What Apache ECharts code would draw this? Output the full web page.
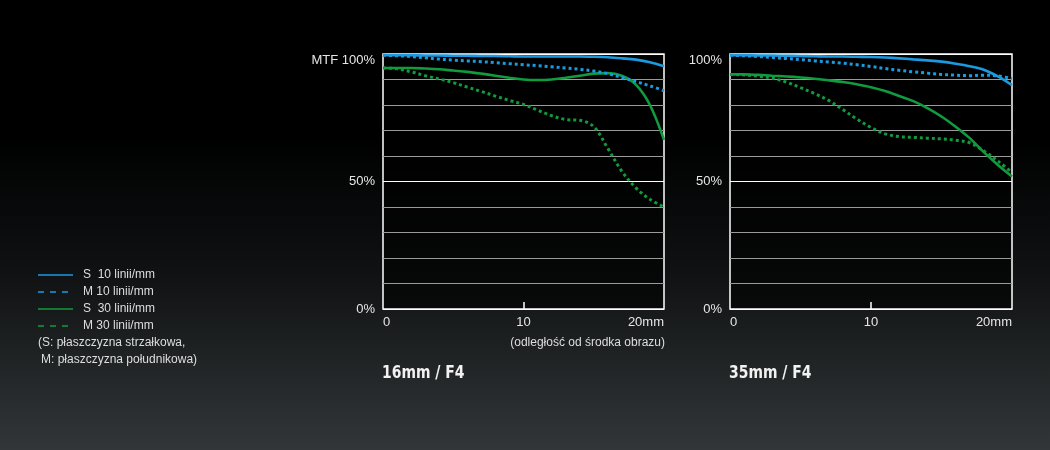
<!DOCTYPE html>
<html>
<head>
<meta charset="utf-8">
<script src="https://cdn.jsdelivr.net/npm/echarts@6/dist/echarts.min.js"></script>
<style>
  html, body { margin: 0; padding: 0; background: #000; }
  #main { width: 1050px; height: 450px; }
</style>
</head>
<body>
<div id="main"></div>
<script>
// distance from image centre (mm)
const xs = [0, 1, 2, 3, 4, 5, 6, 7, 8, 9, 10, 11, 12, 13, 14, 15, 16, 17, 18, 19, 20]

// 16mm / F4
const s10_16 = [99.5, 99.5, 99.5, 99.4, 99.4, 99.3, 99.3, 99.2, 99.2, 99.1, 99, 99, 99, 99, 99, 98.9, 98.7, 98.3, 97.8, 96.8, 95.2]
const m10_16 = [99.5, 99.3, 99, 98.5, 98, 97.6, 97.3, 97, 96.6, 96.2, 95.8, 95.4, 95, 94.5, 94, 93.3, 92.3, 90.8, 89.2, 87.5, 85.6]
const s30_16 = [94.5, 94.5, 94.5, 94.3, 94, 93.5, 93, 92.3, 91.5, 90.7, 90, 89.8, 90, 90.7, 91.5, 92.3, 92.5, 91.5, 88, 80, 66.3]
const m30_16 = [94.5, 94.2, 93, 91.5, 90.2, 88.8, 87, 85.3, 83.5, 81.8, 80.2, 78, 75.8, 74.3, 74, 71.5, 63, 54, 47.5, 43, 40]

// 35mm / F4
const s10_35 = [99.5, 99.5, 99.4, 99.4, 99.3, 99.2, 99.1, 99, 99, 98.9, 98.8, 98.6, 98.3, 97.9, 97.5, 97, 96.2, 95.2, 93.8, 91.2, 87.8]
const m10_35 = [99.5, 99.3, 99, 98.6, 98.2, 97.8, 97.3, 96.9, 96.4, 95.8, 95.1, 94.3, 93.6, 93, 92.5, 92, 91.7, 91.5, 91.7, 91.4, 90.3]
const s30_35 = [92, 92, 91.8, 91.5, 91.2, 90.8, 90.3, 89.7, 89, 88.1, 87, 85.5, 83.5, 81.5, 78.8, 75.5, 71.5, 67, 61.5, 56.5, 52]
const m30_35 = [92, 91.8, 91.3, 90.5, 89, 86.8, 84.5, 81.8, 78.2, 74.5, 71.2, 68.7, 67.6, 67.3, 67, 66.7, 66.2, 65.2, 62, 58, 53.5]

// tick labels
const xLabelValues = [0, 10, 20]
const xLabels = ['0', '10', '20mm']
const yLabelValues = [0, 50, 100]
const yLabelsLeft = ['0%', '50%', 'MTF 100%']
const yLabelsRight = ['0%', '50%', '100%']

const legendNames = ['S  10 linii/mm', 'M 10 linii/mm', 'S  30 linii/mm', 'M 30 linii/mm']
const chartTitles = ['16mm / F4', '35mm / F4']

const BLUE = '#1b9ae0'
const GREEN = '#109b3e'
const FONT = "'Liberation Sans', Arial, sans-serif"
const TITLE_FONT = "'DejaVu Sans Condensed', 'DejaVu Sans', sans-serif"

const chart = echarts.init(document.getElementById('main'))

function pairs(vals) {
    return xs.map((x, i) => [x, vals[i]])
}

// grid lines: white at 0 / 50 / 100, grey in between
const gridColors = ['#fff', '#9a9a9a', '#9a9a9a', '#9a9a9a', '#9a9a9a', '#fff',
    '#9a9a9a', '#9a9a9a', '#9a9a9a', '#9a9a9a', '#fff']

function xAxis(gridIndex) {
    return {
        type: 'value', gridIndex: gridIndex, min: 0, max: 20, interval: 10,
        axisLine: {show: false},
        axisTick: {show: true, inside: true, length: 7, customValues: [10], lineStyle: {color: '#fff', width: 1.5}},
        splitLine: {show: false},
        axisLabel: {
            customValues: xLabelValues,
            formatter: v => xLabels[xLabelValues.indexOf(v)],
            color: '#e6e6e6', fontSize: 13, fontFamily: FONT, margin: 7,
            alignMinLabel: 'left', alignMaxLabel: 'right'
        }
    }
}

function yAxis(gridIndex, labels) {
    return {
        type: 'value', gridIndex: gridIndex, min: 0, max: 100, interval: 10,
        axisLine: {show: false},
        axisTick: {show: false},
        splitLine: {show: true, lineStyle: {color: gridColors, width: 1}},
        axisLabel: {
            customValues: yLabelValues,
            formatter: v => labels[yLabelValues.indexOf(v)],
            color: '#e6e6e6', fontSize: 13, fontFamily: FONT, margin: 8,
            verticalAlignMaxLabel: 'top'
        }
    }
}

function line(name, vals, idx, color, dotted) {
    return {
        name: name, type: 'line', xAxisIndex: idx, yAxisIndex: idx,
        data: pairs(vals), smooth: 0.35, showSymbol: false, silent: true,
        lineStyle: dotted
            ? {color: color, width: 3, type: [3, 3], cap: 'butt'}
            : {color: color, width: 2.6}
    }
}

// legend drawn by hand: solid / dashed samples like the original
const legendRows = [275, 292, 309, 326]
const legendGraphic = []
legendNames.forEach((name, i) => {
    legendGraphic.push({
        type: 'line', shape: {x1: 38, y1: legendRows[i], x2: 73, y2: legendRows[i]},
        style: {stroke: i < 2 ? BLUE : GREEN, lineWidth: 1.5, lineDash: i % 2 ? [6, 6] : null}
    })
    legendGraphic.push({
        type: 'text', x: 83, y: legendRows[i],
        style: {text: name, fill: '#dedede', font: '12px ' + FONT, verticalAlign: 'middle'}
    })
})
legendGraphic.push({
    type: 'text', x: 38, y: 343,
    style: {text: '(S: płaszczyzna strzałkowa,', fill: '#dedede', font: '12px ' + FONT, verticalAlign: 'middle'}
})
legendGraphic.push({
    type: 'text', x: 41, y: 360,
    style: {text: 'M: płaszczyzna południkowa)', fill: '#dedede', font: '12px ' + FONT, verticalAlign: 'middle'}
})
legendGraphic.push({
    type: 'text', x: 665, y: 343,
    style: {text: '(odległość od środka obrazu)', fill: '#dedede', font: '12px ' + FONT, align: 'right', verticalAlign: 'middle'}
})
// chart captions, slightly squeezed to look condensed
const titleX = [382, 729]
chartTitles.forEach((t, i) => {
    legendGraphic.push({
        type: 'text', x: titleX[i], y: 373, scaleX: 0.86,
        style: {text: t, fill: '#f2f2f2', font: 'bold 18px ' + TITLE_FONT, verticalAlign: 'middle'}
    })
})

chart.setOption({
    backgroundColor: {
        type: 'linear', x: 0, y: 0, x2: 0, y2: 1,
        colorStops: [
            {offset: 0, color: '#000'},
            {offset: 0.3, color: '#000'},
            {offset: 0.6, color: '#0f1112'},
            {offset: 1, color: '#323638'}
        ]
    },
    animation: false,
    grid: [
        {left: 383, top: 54, width: 281, height: 255, show: true, backgroundColor: 'rgba(0,0,0,0.6)', borderColor: '#fff', borderWidth: 1.5},
        {left: 730, top: 54, width: 282, height: 255, show: true, backgroundColor: 'rgba(0,0,0,0.6)', borderColor: '#fff', borderWidth: 1.5}
    ],
    xAxis: [xAxis(0), xAxis(1)],
    yAxis: [yAxis(0, yLabelsLeft), yAxis(1, yLabelsRight)],
    graphic: legendGraphic,
    series: [
        line(legendNames[3], m30_16, 0, GREEN, true),
        line(legendNames[2], s30_16, 0, GREEN, false),
        line(legendNames[1], m10_16, 0, BLUE, true),
        line(legendNames[0], s10_16, 0, BLUE, false),
        line(legendNames[3], m30_35, 1, GREEN, true),
        line(legendNames[2], s30_35, 1, GREEN, false),
        line(legendNames[1], m10_35, 1, BLUE, true),
        line(legendNames[0], s10_35, 1, BLUE, false)
    ]
})
</script>
</body>
</html>
